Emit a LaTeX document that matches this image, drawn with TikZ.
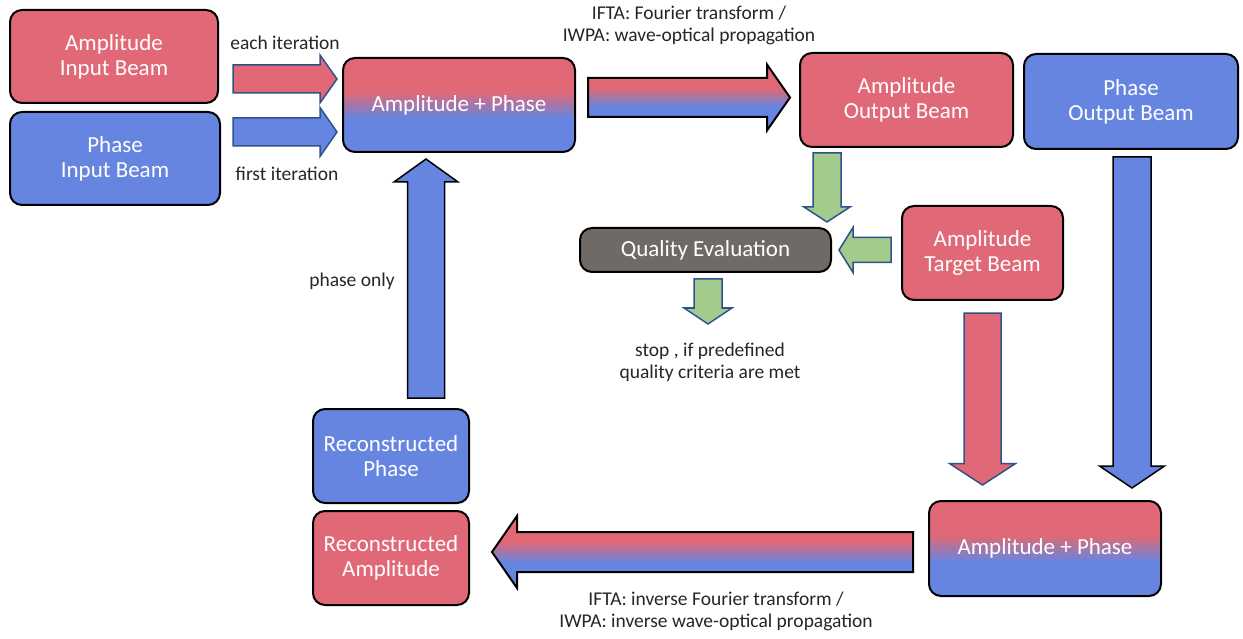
\documentclass[tikz,border=0pt]{standalone}
\usepackage{fontspec}
\setmainfont{Carlito}
\usetikzlibrary{calc}

\definecolor{ampred}{RGB}{225,104,118}
\definecolor{phblue}{RGB}{102,133,224}
\definecolor{evgreen}{RGB}{163,203,139}
\definecolor{evgray}{RGB}{111,106,102}
\definecolor{rimblue}{RGB}{47,82,143}
\pgfdeclareverticalshading{ampphase}{100bp}{color(0bp)=(phblue); color(43bp)=(phblue); color(57bp)=(ampred); color(100bp)=(ampred)}

% block arrow: [style]{start}{tip}{shaft half width}{head half width}{head length}
\newcommand{\blockarrow}[6][]{%
  \coordinate (ba) at (#2);
  \coordinate (bt) at (#3);
  \coordinate (bh) at ($(bt)!#6pt!(ba)$);
  \draw[#1] ($(ba)!#4pt!90:(bt)$) -- ($(bh)!#4pt!-90:(ba)$) -- ($(bh)!#5pt!-90:(ba)$)
    -- (bt) -- ($(bh)!#5pt!90:(ba)$) -- ($(bh)!#4pt!90:(ba)$) -- ($(ba)!#4pt!-90:(bt)$) -- cycle;
}

\tikzset{
  beam/.style={draw=black, line width=2pt, rounded corners=12pt, text=white, align=center,
    font=\fontsize{23}{25}\selectfont, inner sep=0pt},
  ampbox/.style={beam, fill=ampred},
  phbox/.style={beam, fill=phblue},
  mixbox/.style={beam, shade, shading=ampphase},
  note/.style={align=center, text=black!85, font=\fontsize{19.5}{22}\selectfont},
  flow/.style={line width=1.5pt, draw=rimblue},
  mixflow/.style={line width=2pt, draw=black, shade, shading=ampphase},
}

\begin{document}
\begin{tikzpicture}[x=1pt, y=-1pt]
  \useasboundingbox[fill=white] (0,0) rectangle (1243,639);

  % boxes
  \node[ampbox, minimum width=208pt, minimum height=93pt] (ampin) at (114,56.5) {Amplitude\\Input Beam};
  \node[phbox, minimum width=210pt, minimum height=93pt] (phin) at (115,158.5) {Phase\\Input Beam};
  \node[mixbox, minimum width=232pt, minimum height=94pt] (mixtop) at (459,105) {Amplitude + Phase};
  \node[ampbox, minimum width=213pt, minimum height=94pt] (ampout) at (906.5,100) {Amplitude\\Output Beam};
  \node[phbox, minimum width=214pt, minimum height=95pt] (phout) at (1131,101.5) {Phase\\Output Beam};
  \node[beam, fill=evgray, minimum width=251pt, minimum height=44pt] (qual) at (705.5,250) {Quality Evaluation};
  \node[ampbox, minimum width=161pt, minimum height=94pt] (amptar) at (982.5,253) {Amplitude\\Target Beam};
  \node[phbox, minimum width=156pt, minimum height=94pt] (recph) at (391,456) {Reconstructed\\Phase};
  \node[ampbox, minimum width=156pt, minimum height=94pt] (recamp) at (391,558) {Reconstructed\\Amplitude};
  \node[mixbox, minimum width=232pt, minimum height=95pt] (mixbot) at (1045,548.5) {Amplitude + Phase};

  % arrows
  \blockarrow[flow, fill=ampred]{233,79}{337,79}{14}{24}{17}
  \blockarrow[flow, fill=phblue]{233,132}{337,132}{14}{24.5}{17}
  \blockarrow[mixflow]{588,97.5}{790,97.5}{19.5}{33}{23}
  \blockarrow[flow, fill=evgreen]{827,153}{827,222}{14}{23}{15}
  \blockarrow[flow, fill=evgreen]{891,250}{839,250}{12.5}{22.5}{14}
  \blockarrow[flow, fill=evgreen]{708,279}{708,324}{14}{24}{16}
  \blockarrow[line width=1.5pt, draw=black, fill=phblue]{426,398}{426,159}{18.5}{32}{23}
  \blockarrow[flow, fill=ampred]{982.5,313}{982.5,485}{18.5}{33}{21.5}
  \blockarrow[line width=1.5pt, draw=black, fill=phblue]{1132,157}{1132,488}{19}{32.5}{22}
  \blockarrow[mixflow]{913,552}{492,552}{20}{36}{25}

  % labels
  \node[note] (each) at (285,43) {each iteration};
  \node[note] (first) at (287,174) {first iteration};
  \node[note] (fwd) at (689,25) {IFTA: Fourier transform /\\IWPA: wave-optical propagation};
  \node[note] (phonly) at (352,281) {phase only};
  \node[note] (stop) at (710,362) {stop , if predefined\\quality criteria are met};
  \node[note] (bwd) at (716,611) {IFTA: inverse Fourier transform /\\IWPA: inverse wave-optical propagation};
\end{tikzpicture}
\end{document}
